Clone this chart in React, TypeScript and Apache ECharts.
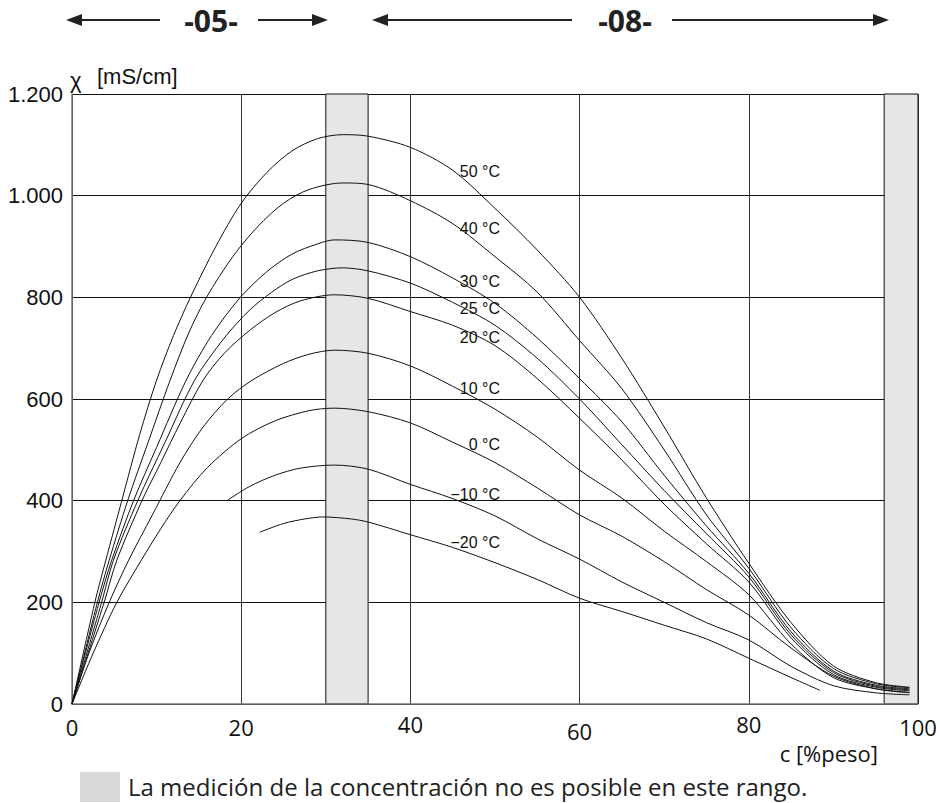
import React, { useEffect, useRef } from "react";
import * as echarts from "echarts";

// Conductivity curves: [c %peso, χ mS/cm]
const c50 = [[0,0],[2.7,200],[4,283],[5.9,401],[8,530],[10,637],[12,725],[14,800],[17,900],[20,985],[23,1045],[26,1088],[29,1112],[32,1120],[35,1117],[40,1095],[45,1050],[50,975],[55,893],[60,800],[65,680],[70,545],[75,405],[80,277],[85,160],[90,75],[95,42],[99,33]];
const c40 = [[0,0],[3,200],[4.4,283],[6.6,401],[9,515],[11.6,637],[13.8,730],[15.9,800],[19,880],[22,940],[25,985],[28,1012],[32,1025],[35,1022],[40,990],[45,945],[50,880],[55,810],[60,715],[65,620],[70,500],[75,372],[80,267],[85,150],[90,70],[95,40],[99,32]];
const c30 = [[0,0],[3.2,200],[4.7,283],[7.3,401],[10,505],[13.5,637],[16.5,725],[19.9,800],[23,850],[26,885],[29,905],[31,913],[35,908],[40,880],[45,838],[50,788],[55,720],[60,640],[65,555],[70,450],[75,350],[80,257],[85,142],[90,65],[95,37],[99,30]];
const c25 = [[0,0],[3.5,200],[4.9,283],[7.8,401],[11,515],[14.5,637],[18,720],[21,775],[23.6,810],[26,835],[29,852],[32,858],[35,852],[40,828],[45,790],[50,745],[55,680],[60,600],[65,510],[70,420],[75,335],[80,250],[85,136],[90,62],[95,35],[99,28]];
const c20 = [[0,0],[3.8,200],[5.3,283],[8.3,401],[10.5,475],[12.8,553],[15.5,637],[18,690],[21,735],[24,770],[27,793],[31,805],[35,798],[40,772],[45,745],[50,705],[55,640],[60,562],[65,480],[70,393],[75,315],[80,240],[85,130],[90,58],[95,33],[99,26]];
const c10 = [[0,0],[2,100],[4.4,200],[6.7,283],[9.5,372],[12.8,476],[15.5,545],[18.4,600],[21.3,637],[25,670],[28,688],[31,696],[35,690],[40,665],[45,625],[50,580],[55,525],[60,460],[65,405],[70,340],[75,280],[80,215],[85,118],[90,52],[95,30],[99,23]];
const c0 = [[0,0],[2.5,100],[5.3,200],[8.2,283],[10.5,345],[12.8,401],[16,465],[20.1,523],[24,557],[28,577],[31,582],[35,575],[40,553],[45,515],[50,475],[55,425],[60,372],[65,330],[70,280],[75,225],[80,175],[85,110],[90,55],[95,30],[99,22]];
const cm10 = [[18.4,401],[21,428],[24,450],[27,464],[31,470],[35,462],[40,432],[45,404],[50,370],[55,325],[60,285],[65,240],[70,200],[75,160],[80,126],[85,74],[90,36],[95,22],[99,18]];
const cm20 = [[22.2,338],[25,355],[27.5,364],[29.7,368],[33,364],[35,358],[40,333],[45,308],[50,278],[55,245],[60,208],[65,182],[70,155],[75,128],[80,90],[85,52],[88.4,27]];

const curves = [c50, c40, c30, c25, c20, c10, c0, cm10, cm20];
const curveLabels = ["50 °C", "40 °C", "30 °C", "25 °C", "20 °C", "10 °C", "0 °C", "−10 °C", "−20 °C"];
const curveLabelY = [171, 228, 281, 308, 337, 388, 444, 494, 542];

// Ranges where concentration measurement is not possible
const bands = [[30, 35], [96, 100]];

const yTickLabels: Record<number, string> = { 0: "0", 200: "200", 400: "400", 600: "600", 800: "800", 1000: "1.000", 1200: "1.200" };
const xTickStyle: Record<number, string> = { 0: "n", 20: "n", 40: "hi", 60: "lo", 80: "hi", 100: "n" };

const arrowGroups = [
  { text: "-05-", textX: 211, left: [160, 66], right: [258, 328] },
  { text: "-08-", textX: 625, left: [572, 372], right: [672, 889] },
];

function arrow(from: number, to: number, y: number) {
  const dir = to > from ? -1 : 1;
  return [
    { type: "line", shape: { x1: from, y1: y, x2: to + dir * 10, y2: y }, style: { stroke: "#222", lineWidth: 2 } },
    { type: "polygon", shape: { points: [[to, y], [to + dir * 16, y - 6], [to + dir * 16, y + 6]] }, style: { fill: "#222" } },
  ];
}

export default function App() {
  const ref = useRef<HTMLDivElement>(null);
  useEffect(() => {
    if (!ref.current) return;
    const chart = echarts.init(ref.current, null, { renderer: "svg" });
    const ARROW_Y = 20;
    const graphics: any[] = [];
    arrowGroups.forEach((g) => {
      graphics.push(...arrow(g.left[0], g.left[1], ARROW_Y));
      graphics.push(...arrow(g.right[0], g.right[1], ARROW_Y));
      graphics.push({
        type: "text", x: g.textX, y: ARROW_Y,
        style: { text: g.text, font: "bold 30px 'Open Sans'", fill: "#222", align: "center", verticalAlign: "middle" },
      });
    });
    graphics.push({ type: "text", x: 70, y: 80, style: { text: "χ", font: "22px 'Liberation Sans'", fill: "#111", verticalAlign: "middle" } });
    graphics.push({ type: "text", x: 97, y: 76, style: { text: "[mS/cm]", font: "22px 'Liberation Sans'", fill: "#111", verticalAlign: "middle" } });
    curveLabels.forEach((t, i) => {
      graphics.push({ type: "text", x: 500, y: curveLabelY[i], style: { text: t, font: "16px 'Liberation Sans'", fill: "#111", align: "right", verticalAlign: "middle" } });
    });
    graphics.push({ type: "text", x: 878, y: 753, style: { text: "c [%peso]", font: "22px 'Open Sans'", fill: "#111", align: "right", verticalAlign: "middle" } });
    graphics.push({ type: "rect", shape: { x: 80, y: 772, width: 40, height: 30 }, style: { fill: "#d9d9d9" } });
    graphics.push({ type: "text", x: 128, y: 786, style: { text: "La medición de la concentración no es posible en este rango.", font: "24px 'Open Sans'", fill: "#222", verticalAlign: "middle" } });

    const series: any[] = curves.map((c, i) => ({
      type: "line", name: curveLabels[i], data: c, showSymbol: false, symbol: "none",
      smooth: 0.3,
      lineStyle: { color: "#111", width: 1 }, z: 3, silent: true,
    }));
    series.push({
      type: "line", data: [], z: 0, silent: true,
      markArea: {
        silent: true,
        itemStyle: { color: "#e6e6e6", borderColor: "#111", borderWidth: 1 },
        data: bands.map((b) => [{ xAxis: b[0] }, { xAxis: b[1] }]),
      },
    });

    const xRich = {
      n: { fontSize: 22, fontFamily: "'Open Sans'", color: "#111", padding: [3, 0, 0, 0] },
      hi: { fontSize: 22, fontFamily: "'Open Sans'", color: "#111", padding: [0, 0, 0, 0] },
      lo: { fontSize: 22, fontFamily: "'Open Sans'", color: "#111", padding: [7, 0, 0, 0] },
    };

    chart.setOption({
      animation: false,
      grid: { left: 72, right: 22, top: 94, bottom: 99, containLabel: false },
      xAxis: {
        type: "value", min: 0, max: 100, interval: 20, z: 1,
        axisLine: { show: true, lineStyle: { color: "#777", width: 1.5 } },
        axisTick: { show: false },
        splitLine: { show: true, lineStyle: { color: "#333", width: 1 } },
        axisLabel: {
          margin: 9, fontSize: 22, fontFamily: "'Open Sans'", color: "#111",
          formatter: (v: number) => `{${xTickStyle[v] ?? "n"}|${v}}`,
          rich: xRich,
        },
      },
      yAxis: {
        type: "value", min: 0, max: 1200, interval: 200, z: 1,
        axisLine: { show: true, lineStyle: { color: "#777", width: 1.5 } },
        axisTick: { show: false },
        splitLine: { show: true, lineStyle: { color: "#111", width: 1 } },
        axisLabel: { margin: 9, fontSize: 22, fontFamily: "'Liberation Sans'", color: "#111", formatter: (v: number) => yTickLabels[v] ?? String(v) },
      },
      graphic: graphics,
      series,
    });
    return () => chart.dispose();
  }, []);
  return <div ref={ref} style={{ position: "fixed", left: 0, top: 0, width: 940, height: 803, background: "#fff" }} />;
}
